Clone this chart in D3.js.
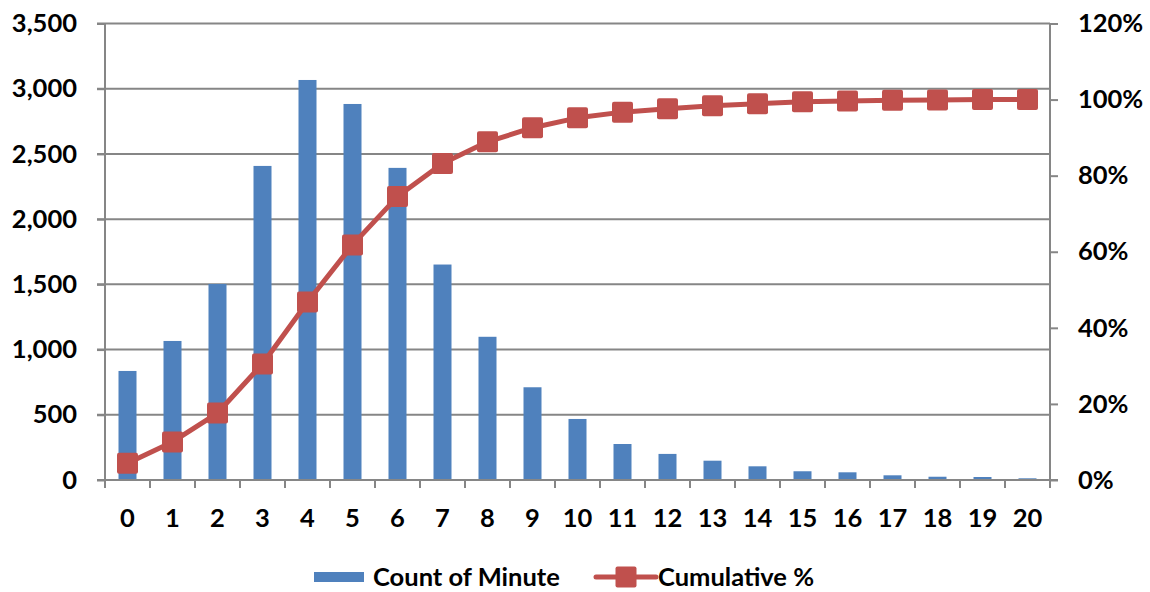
<!DOCTYPE html>
<html>
<head>
<meta charset="utf-8">
<script src="https://cdn.jsdelivr.net/npm/d3@7"></script>
<style>
  body { margin: 0; background: #fff; }
  svg text { font-family: Lato, 'Open Sans', sans-serif; font-weight: bold; fill: #000; }
</style>
</head>
<body>
<svg id="chart" width="1150" height="592"></svg>
<script>
// minutes 0..20
let minutes = ['0','1','2','3','4','5','6','7','8','9','10','11','12','13','14','15','16','17','18','19','20'];
let counts = [836, 1066, 1503, 2408, 3067, 2883, 2393, 1652, 1098, 711, 468, 276, 200, 148, 105, 67, 59, 36, 25, 23, 13];
let cumulative = [4.4, 10.0, 17.6, 30.5, 46.8, 61.8, 74.5, 83.2, 88.9, 92.6, 95.2, 96.7, 97.6, 98.4, 98.9, 99.4, 99.6, 99.8, 99.9, 100, 100];
let leftTicks = [0, 500, 1000, 1500, 2000, 2500, 3000, 3500];
let rightTicks = [0, 20, 40, 60, 80, 100, 120];

let blue = '#4F81BD';
let red = '#C0504D';
let gray = '#868686';
let fontSize = '25.5px';

let svg = d3.select('#chart');

let plotLeft = 105, plotRight = 1050, plotTop = 23.5, plotBottom = 480;

let x = d3.scaleBand()
  .domain(minutes)
  .range([plotLeft, plotRight]);

let y = d3.scaleLinear()
  .domain([0, 3500])
  .range([plotBottom, plotTop]);

let y2 = d3.scaleLinear()
  .domain([0, 120])
  .range([plotBottom, plotTop]);

// gridlines
svg.append('g').attr('class', 'grid')
  .selectAll('line')
  .data(leftTicks.filter((d) => { return d > 0; }))
  .enter().append('line')
  .attr('x1', plotLeft - 8)
  .attr('x2', plotRight)
  .attr('y1', (d) => { return y(d); })
  .attr('y2', (d) => { return y(d); })
  .attr('stroke', gray)
  .attr('stroke-width', 2);

// left axis
let yAxis = svg.append('g')
  .attr('transform', `translate(${plotLeft},0)`)
  .call(d3.axisLeft(y).tickValues(leftTicks).tickSize(8).tickPadding(20)
    .tickFormat(d3.format(',')));

// right axis
let yAxis2 = svg.append('g')
  .attr('transform', `translate(${plotRight},0)`)
  .call(d3.axisRight(y2).tickValues(rightTicks).tickSize(8).tickPadding(20)
    .tickFormat((d) => { return d + '%'; }));

// bars
svg.append('g').attr('class', 'bars')
  .selectAll('rect')
  .data(counts)
  .enter().append('rect')
  .attr('x', (d, i) => { return x(minutes[i]) + x.bandwidth() * 0.3; })
  .attr('width', x.bandwidth() * 0.4)
  .attr('y', (d) => { return y(d); })
  .attr('height', (d) => { return plotBottom - y(d); })
  .attr('fill', blue);

// x axis
let xAxis = svg.append('g')
  .attr('transform', `translate(0,${plotBottom})`)
  .call(d3.axisBottom(x).tickSize(0).tickPadding(29));

xAxis.selectAll('.bound')
  .data(d3.range(minutes.length + 1))
  .enter().append('line')
  .attr('class', 'bound')
  .attr('x1', (i) => { return plotLeft + i * x.step(); })
  .attr('x2', (i) => { return plotLeft + i * x.step(); })
  .attr('y1', 0)
  .attr('y2', 8)
  .attr('stroke', gray)
  .attr('stroke-width', 2);

[yAxis, yAxis2, xAxis].forEach((ax) => {
  ax.select('.domain').attr('stroke', gray).attr('stroke-width', 2);
  ax.selectAll('.tick line').attr('stroke', gray).attr('stroke-width', 2);
  ax.selectAll('text')
    .attr('font-family', 'Lato, sans-serif')
    .attr('font-weight', 'bold')
    .attr('font-size', fontSize)
    .attr('fill', '#000');
});
// plain axis lines, no d3 end caps
yAxis.select('.domain').attr('d', `M0,${plotTop}V${plotBottom}`);
yAxis2.select('.domain').attr('d', `M0,${plotTop}V${plotBottom}`);
xAxis.select('.domain').attr('d', `M${plotLeft - 8},0H${plotRight + 8}`);

// cumulative line
let line = d3.line()
  .x((d, i) => { return x(minutes[i]) + x.bandwidth() / 2; })
  .y((d) => { return y2(d); });

svg.append('path')
  .datum(cumulative)
  .attr('d', line)
  .attr('fill', 'none')
  .attr('stroke', red)
  .attr('stroke-width', 5)
  .attr('stroke-linejoin', 'round');

let ms = 21;
svg.append('g').attr('class', 'markers')
  .selectAll('rect')
  .data(cumulative)
  .enter().append('rect')
  .attr('x', (d, i) => { return x(minutes[i]) + x.bandwidth() / 2 - ms / 2; })
  .attr('y', (d) => { return y2(d) - ms / 2; })
  .attr('width', ms)
  .attr('height', ms)
  .attr('rx', 2)
  .attr('fill', red);

// legend
let legend = svg.append('g').attr('class', 'legend');
let ly = 577;

legend.append('rect')
  .attr('x', 314).attr('y', ly - 5)
  .attr('width', 50).attr('height', 10)
  .attr('fill', blue);
legend.append('text')
  .attr('x', 373).attr('y', ly)
  .attr('dy', '0.35em')
  .style('font-size', fontSize)
  .text('Count of Minute');

legend.append('line')
  .attr('x1', 596).attr('x2', 656)
  .attr('y1', ly).attr('y2', ly)
  .attr('stroke', red)
  .attr('stroke-width', 5)
  .attr('stroke-linecap', 'round');
legend.append('rect')
  .attr('x', 626 - ms / 2).attr('y', ly - ms / 2)
  .attr('width', ms).attr('height', ms)
  .attr('rx', 2)
  .attr('fill', red);
legend.append('text')
  .attr('x', 658).attr('y', ly)
  .attr('dy', '0.35em')
  .style('font-size', fontSize)
  .text('Cumulative %');
</script>
</body>
</html>
